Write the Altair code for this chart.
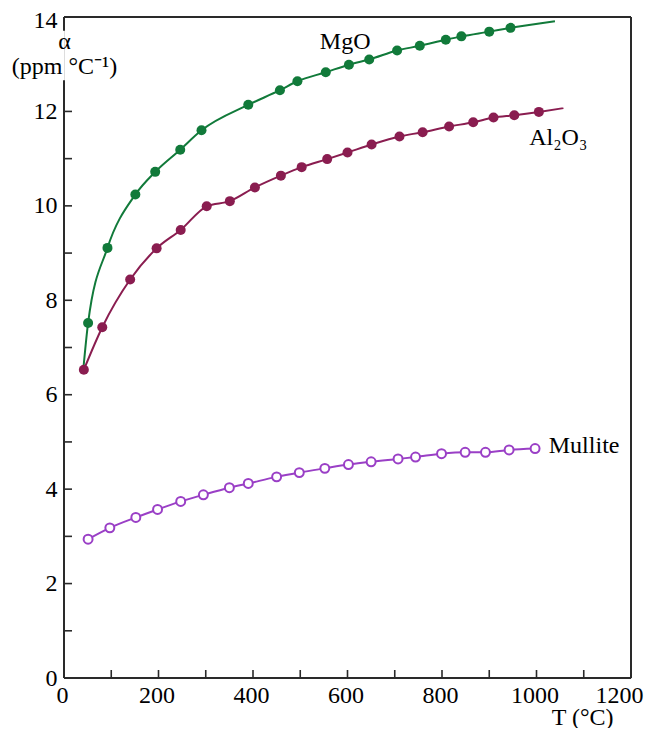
import altair as alt
import pandas as pd

# ---- data ----
mgo_T = [51, 92, 151, 193, 246, 291, 390, 457, 494, 554, 603, 646, 705, 753, 808, 841, 900, 945]
mgo_a = [7.52, 9.11, 10.24, 10.72, 11.19, 11.60, 12.14, 12.45, 12.64, 12.83, 12.99, 13.10,
         13.29, 13.39, 13.52, 13.59, 13.69, 13.77]
mgo_fit_T = [41] + mgo_T + [1039]
mgo_fit_a = [6.55] + mgo_a + [13.91]

al_T = [42, 81, 140, 196, 247, 302, 351, 404, 459, 503, 557, 600, 651, 710, 759, 815, 866,
        909, 953, 1005]
al_a = [6.53, 7.43, 8.44, 9.10, 9.49, 9.99, 10.10, 10.39, 10.64, 10.82, 10.99, 11.13, 11.30,
        11.47, 11.56, 11.68, 11.77, 11.87, 11.92, 11.99]
al_fit_T = al_T + [1057]
al_fit_a = al_a + [12.07]

mul_T = [51, 97, 152, 198, 247, 295, 350, 390, 450, 498, 552, 602, 650, 707, 744, 799, 849,
         892, 942, 997]
mul_a = [2.94, 3.18, 3.40, 3.57, 3.74, 3.88, 4.03, 4.12, 4.26, 4.35, 4.44, 4.52, 4.58, 4.64,
         4.68, 4.75, 4.78, 4.78, 4.83, 4.86]

x_labels = [0, 200, 400, 600, 800, 1000, 1200]
y_labels = [0, 2, 4, 6, 8, 10, 12, 14]
x_minor = [100, 200, 300, 400, 500, 600, 700, 800, 900, 1000, 1100]
y_minor = [1, 2, 3, 4, 5, 6, 7, 8, 9, 10, 11, 12]

series_labels = ["MgO", "Al\u2082O\u2083", "Mullite"]
label_T = [595, 1046, 1026]
label_a = [13.46, 11.43, 4.91]

# ---- layout / style ----
W, H = 567, 661
XMAX, YMAX = 1200, 14
FONT = "Liberation Serif"
GREEN = "#117a3a"
MAROON = "#8a1d50"
PURPLE = "#9a3fc6"
FRAME = "#2a2a2a"
TICK_PX = 8

xs = alt.Scale(domain=[0, XMAX], nice=False, zero=False)
ys = alt.Scale(domain=[0, YMAX], nice=False, zero=False)

x_axis = alt.Axis(values=x_labels, format="d", domain=False, ticks=False, grid=False,
                  labelFont=FONT, labelFontSize=24, labelColor="black", labelPadding=5,
                  labelFlush=False, labelOverlap=False,
                  labelOffset={"condition": {"test": f"datum.value == {XMAX}", "value": -12},
                               "value": -2},
                  title="T (°C)", titleFont=FONT, titleFontSize=24, titleFontWeight="normal",
                  titleColor="black", titleAlign="right", titleBaseline="top",
                  titleX=549, titleY=27)
y_axis = alt.Axis(values=y_labels, format="d", domain=False, ticks=False, grid=False,
                  labelFont=FONT, labelFontSize=24, labelColor="black", labelPadding=7,
                  labelFlush=False, labelOverlap=False,
                  labelOffset={"condition": {"test": f"datum.value == {YMAX}", "value": 3},
                               "value": 0},
                  title=["α", "(ppm °C\u207b\u00b9)"], titleFont=FONT, titleFontSize=24,
                  titleFontWeight="normal", titleColor="black", titleAngle=0,
                  titleAlign="center", titleBaseline="top", titleX=0, titleY=12,
                  titleLineHeight=25)

X = alt.X("T:Q", scale=xs, axis=x_axis)
Y = alt.Y("a:Q", scale=ys, axis=y_axis)

def pts(T, a):
    return pd.DataFrame({"T": T, "a": a})

# frame segments (data units)
frame_df = pd.DataFrame({
    "T":  [0, 0, 0, XMAX, 0],
    "T2": [XMAX, XMAX, 0, XMAX, 0],
    "a":  [0, YMAX, 0, 0, 13.71],
    "a2": [0, YMAX, 12.66, YMAX, YMAX],
})
dy = TICK_PX * YMAX / H
dx = TICK_PX * XMAX / W
tick_df = pd.DataFrame({
    "T":  x_minor + [0] * len(y_minor),
    "T2": x_minor + [dx] * len(y_minor),
    "a":  [0] * len(x_minor) + y_minor,
    "a2": [dy] * len(x_minor) + y_minor,
})

def rules(df, width):
    return alt.Chart(df).mark_rule(color=FRAME, strokeWidth=width).encode(
        x=X, x2="T2:Q", y=Y, y2="a2:Q")

frame = rules(frame_df, 2)
ticks = rules(tick_df, 1.6)

def fit_line(T, a, color):
    return alt.Chart(pts(T, a)).mark_line(color=color, strokeWidth=2,
                                          interpolate="monotone").encode(x=X, y=Y)

def dots(T, a, color, filled=True):
    if filled:
        m = alt.Chart(pts(T, a)).mark_point(shape="circle", filled=True, size=100,
                                            color=color, opacity=1)
    else:
        m = alt.Chart(pts(T, a)).mark_point(shape="circle", filled=False, size=80,
                                            stroke=color, fill="white", fillOpacity=1,
                                            strokeWidth=2, opacity=1)
    return m.encode(x=X, y=Y)

def label(i, align):
    df = pd.DataFrame({"T": [label_T[i]], "a": [label_a[i]], "t": [series_labels[i]]})
    return alt.Chart(df).mark_text(font=FONT, fontSize=24, color="black", align=align,
                                   baseline="middle").encode(x=X, y=Y, text="t:N")

chart = alt.layer(
    frame, ticks,
    fit_line(mgo_fit_T, mgo_fit_a, GREEN), dots(mgo_T, mgo_a, GREEN),
    fit_line(al_fit_T, al_fit_a, MAROON), dots(al_T, al_a, MAROON),
    fit_line(mul_T, mul_a, PURPLE), dots(mul_T, mul_a, PURPLE, filled=False),
    label(0, "center"), label(1, "center"), label(2, "left"),
).properties(
    width=W, height=H,
    autosize=alt.AutoSizeParams(type="none"),
    padding={"left": 56, "top": 9, "right": 13, "bottom": 50},
).configure_view(stroke=None).configure(background="white")

chart.save("out.html", embed_options={"renderer": "svg", "actions": False})
